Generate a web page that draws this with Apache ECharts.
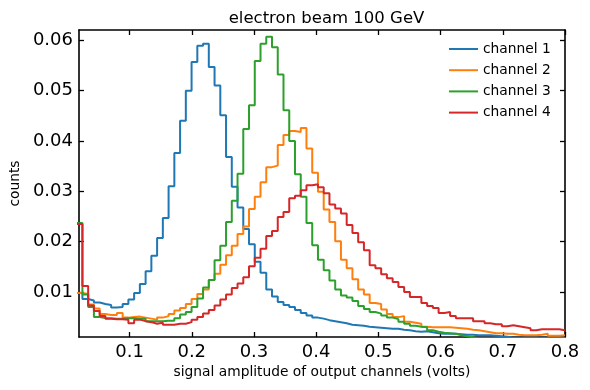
<!DOCTYPE html>
<html>
<head>
<meta charset="utf-8">
<script src="https://cdn.jsdelivr.net/npm/echarts@6/dist/echarts.min.js"></script>
<style>
  html, body { margin: 0; padding: 0; background: #fff; }
  #main-chart { width: 590px; height: 390px; }
</style>
</head>
<body>
<div id="main-chart"></div>
<script>
// histogram bins: equal width from binStart to binEnd
const binStart = 0.015;
const binEnd = 0.8;

const channel1 = [
  0.0098, 0.0086, 0.0083, 0.0079, 0.0076, 0.0074, 0.0069, 0.0070, 0.0076, 0.0085,
  0.0098, 0.0116, 0.0141, 0.0172, 0.0207, 0.0247, 0.0310, 0.0376, 0.0440, 0.0500,
  0.0557, 0.0589, 0.0593, 0.0547, 0.0510, 0.0451, 0.0368, 0.0309, 0.0268, 0.0225,
  0.0195, 0.0160, 0.0138, 0.0105, 0.0091, 0.0080, 0.0074, 0.0070, 0.0064, 0.0058,
  0.0053, 0.0049, 0.0047, 0.0044, 0.0042, 0.0040, 0.0038, 0.0035, 0.0034, 0.0033,
  0.0031, 0.0030, 0.0029, 0.0028, 0.0027, 0.0027, 0.0025, 0.0024, 0.0022, 0.0021,
  0.0022, 0.0020, 0.0018, 0.0017, 0.0017, 0.0017, 0.0016, 0.0015, 0.0015, 0.0014,
  0.0014, 0.0014, 0.0013, 0.0012, 0.0011, 0.0009, 0.0009, 0.0009, 0.0009, 0.0009,
  0.0009, 0.0009, 0.0009, 0.0009, 0.0009
];

const channel2 = [
  0.0098, 0.0096, 0.0075, 0.0067, 0.0056, 0.0054, 0.0054, 0.0058, 0.0049, 0.0050,
  0.0051, 0.0049, 0.0047, 0.0045, 0.0049, 0.0052, 0.0056, 0.0063, 0.0068, 0.0076,
  0.0086, 0.0096, 0.0105, 0.0124, 0.0136, 0.0154, 0.0173, 0.0192, 0.0215, 0.0230,
  0.0265, 0.0289, 0.0318, 0.0348, 0.0351, 0.0392, 0.0412, 0.0420, 0.0418, 0.0426,
  0.0385, 0.0337, 0.0299, 0.0264, 0.0239, 0.0201, 0.0164, 0.0147, 0.0125, 0.0105,
  0.0095, 0.0078, 0.0076, 0.0065, 0.0056, 0.0050, 0.0052, 0.0041, 0.0039, 0.0037,
  0.0031, 0.0030, 0.0030, 0.0030, 0.0030, 0.0029, 0.0028, 0.0027, 0.0025, 0.0024,
  0.0022, 0.0020, 0.0018, 0.0018, 0.0017, 0.0017, 0.0015, 0.0014, 0.0014, 0.0014,
  0.0015, 0.0017, 0.0013, 0.0013, 0.0014
];

const channel3 = [
  0.0237, 0.0095, 0.0070, 0.0050, 0.0048, 0.0048, 0.0047, 0.0047, 0.0048, 0.0048,
  0.0047, 0.0047, 0.0042, 0.0042, 0.0042, 0.0043, 0.0043, 0.0048, 0.0055, 0.0060,
  0.0070, 0.0087, 0.0109, 0.0124, 0.0163, 0.0192, 0.0239, 0.0281, 0.0335, 0.0424,
  0.0471, 0.0559, 0.0593, 0.0607, 0.0586, 0.0532, 0.0461, 0.0400, 0.0334, 0.0289,
  0.0237, 0.0193, 0.0164, 0.0143, 0.0123, 0.0105, 0.0093, 0.0089, 0.0082, 0.0072,
  0.0066, 0.0060, 0.0057, 0.0053, 0.0049, 0.0046, 0.0041, 0.0037, 0.0033, 0.0031,
  0.0030, 0.0024, 0.0021, 0.0019, 0.0018, 0.0017, 0.0014, 0.0012, 0.0010, 0.0008,
  0.0008, 0.0008, 0.0008, 0.0008, 0.0008, 0.0008, 0.0008, 0.0008, 0.0008, 0.0008,
  0.0008, 0.0008, 0.0008, 0.0008, 0.0008
];

const channel4 = [
  0.0235, 0.0112, 0.0073, 0.0062, 0.0052, 0.0047, 0.0046, 0.0046, 0.0045, 0.0038,
  0.0045, 0.0042, 0.0040, 0.0037, 0.0039, 0.0035, 0.0035, 0.0037, 0.0037, 0.0040,
  0.0045, 0.0050, 0.0057, 0.0064, 0.0073, 0.0085, 0.0095, 0.0108, 0.0117, 0.0129,
  0.0151, 0.0168, 0.0186, 0.0211, 0.0221, 0.0249, 0.0259, 0.0286, 0.0291, 0.0302,
  0.0312, 0.0314, 0.0308, 0.0296, 0.0274, 0.0266, 0.0256, 0.0233, 0.0217, 0.0199,
  0.0183, 0.0153, 0.0147, 0.0135, 0.0127, 0.0120, 0.0110, 0.0100, 0.0090, 0.0090,
  0.0078, 0.0072, 0.0068, 0.0058, 0.0060, 0.0052, 0.0048, 0.0048, 0.0048, 0.0042,
  0.0042, 0.0038, 0.0036, 0.0036, 0.0032, 0.0034, 0.0032, 0.0030, 0.0028, 0.0024,
  0.0026, 0.0026, 0.0026, 0.0026, 0.0024
];

const seriesNames = ['channel 1', 'channel 2', 'channel 3', 'channel 4'];
const seriesColors = ['#1f77b4', '#ff7f0e', '#2ca02c', '#d62728'];

const xTicks = [0.1, 0.2, 0.3, 0.4, 0.5, 0.6, 0.7, 0.8];
const yTicks = [0.01, 0.02, 0.03, 0.04, 0.05, 0.06];

const X_MIN = 0.0187, X_MAX = 0.8;
const Y_MIN = 0.00105, Y_MAX = 0.06205;

const FONT = 'DejaVu Sans';

// step outline: one point per left bin edge, plus the closing right edge
function stepData(values) {
    const n = values.length;
    const w = (binEnd - binStart) / n;
    const pts = values.map((v, i) => [binStart + i * w, v]);
    pts.push([binEnd, values[n - 1]]);
    return pts;
}

const frameLine = { show: true, onZero: false, lineStyle: { color: '#000', width: 1.6 } };
const tickStyle = (vals) => ({
    show: true, inside: true, length: 5,
    customValues: vals,
    lineStyle: { color: '#000', width: 1.3 }
});

window.addEventListener('DOMContentLoaded', () => {
    const chart = echarts.init(document.getElementById('main-chart'));

    chart.setOption({
        animation: false,
        backgroundColor: '#fff',
        title: {
            text: 'electron beam 100 GeV',
            left: 321.5,
            textAlign: 'center',
            top: 5,
            textStyle: { fontFamily: FONT, fontSize: 16.5, fontWeight: 'normal', color: '#000' }
        },
        legend: {
            orient: 'vertical',
            left: 444,
            top: 36,
            itemWidth: 29,
            itemHeight: 2,
            itemGap: 5.2,
            icon: 'rect',
            textStyle: { fontFamily: FONT, fontSize: 13.8, color: '#000', lineHeight: 16 },
            data: seriesNames
        },
        grid: { left: 78, right: 25, top: 30, bottom: 53 },
        xAxis: [
            {
                type: 'value', position: 'bottom', min: X_MIN, max: X_MAX,
                axisLine: frameLine,
                axisTick: tickStyle(xTicks),
                splitLine: { show: false },
                axisLabel: {
                    customValues: xTicks,
                    formatter: v => v.toFixed(1),
                    fontFamily: FONT, fontSize: 18, color: '#000', margin: 6
                },
                name: 'signal amplitude of output channels (volts)',
                nameLocation: 'middle',
                nameGap: 28,
                nameTextStyle: { fontFamily: FONT, fontSize: 13.8, color: '#000' }
            },
            {
                type: 'value', position: 'top', min: X_MIN, max: X_MAX,
                axisLine: frameLine,
                axisTick: tickStyle(xTicks),
                splitLine: { show: false },
                axisLabel: { show: false }
            }
        ],
        yAxis: [
            {
                type: 'value', position: 'left', min: Y_MIN, max: Y_MAX,
                axisLine: frameLine,
                axisTick: tickStyle(yTicks),
                splitLine: { show: false },
                axisLabel: {
                    customValues: yTicks,
                    formatter: v => v.toFixed(2),
                    fontFamily: FONT, fontSize: 18, color: '#000', margin: 6
                },
                name: 'counts',
                nameLocation: 'middle',
                nameGap: 52,
                nameTextStyle: { fontFamily: FONT, fontSize: 13.8, color: '#000' }
            },
            {
                type: 'value', position: 'right', min: Y_MIN, max: Y_MAX,
                axisLine: frameLine,
                axisTick: tickStyle(yTicks),
                splitLine: { show: false },
                axisLabel: { show: false }
            }
        ],
        series: [channel1, channel2, channel3, channel4].map((vals, i) => ({
            name: seriesNames[i],
            type: 'line',
            step: 'end',
            xAxisIndex: 0,
            yAxisIndex: 0,
            showSymbol: false,
            clip: true,
            data: stepData(vals),
            lineStyle: { color: seriesColors[i], width: 2 },
            itemStyle: { color: seriesColors[i] }
        }))
    });

    window.addEventListener('resize', () => chart.resize());
});
</script>
</body>
</html>
